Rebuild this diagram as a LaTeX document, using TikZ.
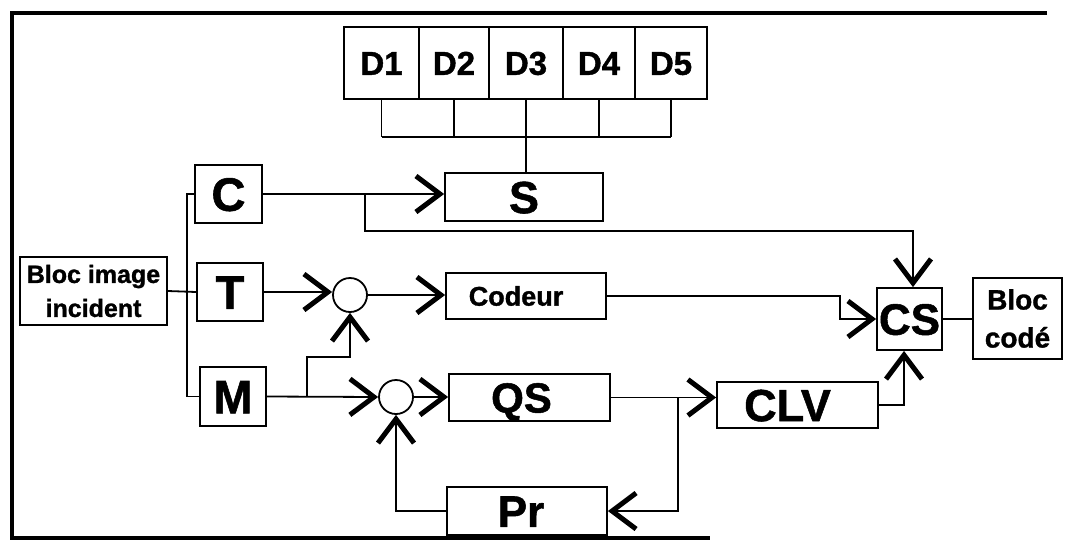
\documentclass[tikz,border=0pt]{standalone}
\usepackage{fontspec}
\setmainfont{Liberation Sans}[BoldFeatures={FakeBold=1.2}]
\usetikzlibrary{arrows.meta}
\newcommand\fsz[2]{\fontsize{#1}{#2}\selectfont}
\newcommand\lsh[1]{\hspace*{-#1pt}}
\begin{document}
\begin{tikzpicture}[x=1pt,y=-1pt,
  box/.style={draw, line width=1.8pt, inner sep=0pt, align=center},
  lab/.style n args={2}{font=\bfseries\fsz{#1}{#1}, text height=#2, text depth=0pt},
  ln/.style={line width=1.8pt},
  arr/.style={ln, -{Straight Barb[length=24pt,width=36pt,line width=5pt]}},
  circ/.style={draw, circle, line width=1.8pt, minimum size=34pt, inner sep=0pt}]
\useasboundingbox (0,0) rectangle (1067,541);
\draw[line width=3.5pt] (1047,13) -- (12,13) -- (12,538) -- (710,538);

% nodes
\node[box, minimum width=147pt, minimum height=68pt, font=\bfseries\fsz{25}{34}] (bloc) at (93.5,291) {Bloc image\\incident};
\node[box, lab={47}{33.7pt}, minimum width=67pt, minimum height=58pt] (C) at (228.5,194) {C};
\node[box, lab={47}{33.7pt}, minimum width=66pt, minimum height=58pt] (T) at (230,292) {T};
\node[box, lab={47}{33.7pt}, minimum width=66pt, minimum height=59pt] (M) at (233,396.5) {M};

\node[box, lab={33}{23.6pt}, minimum width=75pt, minimum height=72pt] (d1) at (381.5,63) {D1};
\node[box, lab={33}{23.6pt}, minimum width=70pt, minimum height=72pt] (d2) at (454,63) {D2};
\node[box, lab={33}{23.6pt}, minimum width=74pt, minimum height=72pt] (d3) at (526,63) {D3};
\node[box, lab={33}{23.6pt}, minimum width=72pt, minimum height=72pt] (d4) at (599,63) {D4};
\node[box, lab={33}{23.6pt}, minimum width=72pt, minimum height=72pt] (d5) at (671,63) {D5};

\node[box, lab={45}{32.2pt}, minimum width=158pt, minimum height=48pt] (S) at (524,197) {S};
\node[circ] (c1) at (350,295) {};
\node[circ] (c2) at (396,397) {};
\node[box, lab={27}{19.3pt}, minimum width=160pt, minimum height=46pt] (cod) at (526,296) {\lsh{20}Codeur};
\node[box, lab={42}{30pt}, minimum width=161pt, minimum height=47pt] (QS) at (529.5,397.5) {\lsh{16}QS};
\node[box, lab={44}{31.5pt}, minimum width=160pt, minimum height=48pt] (Pr) at (527,511) {\lsh{12}Pr};
\node[box, lab={45}{32.2pt}, minimum width=161pt, minimum height=46pt] (CLV) at (797.5,405) {\lsh{20}CLV};
\node[box, lab={44}{31.5pt}, minimum width=65pt, minimum height=62pt] (CS) at (909.5,319) {CS};
\node[box, minimum width=89pt, minimum height=81pt, font=\bfseries\fsz{28}{38}] (bc) at (1017.5,318.5) {Bloc\\codé};

% coordinates
\coordinate (bus) at (187,292);
\coordinate (brk) at (527,137);
\coordinate (cbr) at (365,194);
\coordinate (ctop) at (913,231);
\coordinate (mbr) at (307,396.5);
\coordinate (mup) at (307,357);
\coordinate (qbr) at (678,397.5);
\coordinate (cbend) at (840,296);

% connectors
\draw[ln] (bloc.east) -- (T.west);
\draw[ln] (C.west) -| (bus) |- (M.west);
\foreach \d in {d1,d2,d4,d5} \draw[ln] (\d.south) -- (\d.south |- brk);
\draw[ln] (d1.south |- brk) -- (d5.south |- brk);
\draw[ln] (d3.south) -- (d3.south |- S.north);
\draw[arr] (C.east) -- (C.east -| S.west);
\draw[arr] (cbr) |- (ctop) -- (ctop |- CS.north);
\draw[arr] (T.east) -- (T.east -| c1.west);
\draw[arr] (c1.east) -- (c1.east -| cod.west);
\draw[arr] (M.east) -- (c2.west);
\draw[arr] (mbr) -- (mup) -| (c1.south);
\draw[arr] (c2.east) -- (c2.east -| QS.west);
\draw[arr] (QS.east) -- (QS.east -| CLV.west);
\draw[arr] (qbr) |- (Pr.east);
\draw[arr] (Pr.west) -| (c2.south);
\draw[arr] (cod.east) -- (cbend) |- (CS.west);
\draw[arr] (CLV.east) -| ([xshift=-5.5pt]CS.south);
\draw[ln] (CS.east) -- (CS.east -| bc.west);
\end{tikzpicture}
\end{document}
